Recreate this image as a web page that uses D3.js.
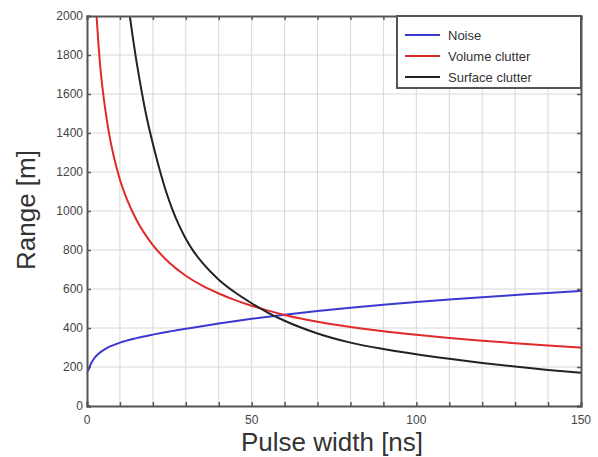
<!DOCTYPE html>
<html><head><meta charset="utf-8">
<script src="https://cdn.jsdelivr.net/npm/d3@7"></script>
<style>body{margin:0;background:#fff;} svg{display:block;}</style>
</head><body>
<svg id="c" width="598" height="457"></svg>
<script>
const noiseX = [0.3,1,2,3,4,6,8,10,15,20,25,30,40,50,60,70,80,90,100,110,120,130,140,150];
const noiseY = [178,210,240,260,275,297,312,325,348,366,382,396,423,447,468,487,504,519,533,546,558,569,580,590];
const volX = [2.9,3.5,4,5,6,7,8,10,12,15,20,25,30,35,40,45,50,55,60,70,80,90,100,110,120,130,140,150];
const volY = [2000,1850,1745,1590,1470,1370,1290,1160,1065,955,825,735,668,617,577,543,514,489,467,432,405,383,365,349,335,322,310,299];
const surfX = [13,14,15,16,18,20,22,24,26,28,30,32,35,40,45,50,55,60,70,80,90,100,110,120,130,140,150];
const surfY = [2000,1880,1770,1670,1490,1345,1215,1100,1005,925,858,802,735,648,582,527,478,437,372,325,292,265,242,221,202,185,170];
const xTicks = [0,10,20,30,40,50,60,70,80,90,100,110,120,130,140,150];
const xLabels = [0,50,100,150];
const yTicks = [0,200,400,600,800,1000,1200,1400,1600,1800,2000];
const seriesNames = ["Noise","Volume clutter","Surface clutter"];
const seriesColors = ["#3a3ad0","#e02a2a","#222222"];

const svg = d3.select("#c");
const L=87, R=581, T=16, B=406;
const x = d3.scaleLinear().domain([0,150]).range([L,R]);
const y = d3.scaleLinear().domain([0,2000]).range([B,T]);

// grid
svg.append("g").selectAll("line").data(xTicks.slice(1,-1)).join("line")
  .attr("x1",d=>x(d)).attr("x2",d=>x(d)).attr("y1",T).attr("y2",B)
  .attr("stroke","#d8d8d8").attr("stroke-width",1);
svg.append("g").selectAll("line").data(yTicks.slice(1,-1)).join("line")
  .attr("y1",d=>y(d)).attr("y2",d=>y(d)).attr("x1",L).attr("x2",R)
  .attr("stroke","#d8d8d8").attr("stroke-width",1);

// data
const series = [
  noiseX.map((v,i)=>[v,noiseY[i]]),
  volX.map((v,i)=>[v,volY[i]]),
  surfX.map((v,i)=>[v,surfY[i]])
];
const line = d3.line().x(d=>x(d[0])).y(d=>y(d[1])).curve(d3.curveMonotoneX);
svg.append("defs").append("clipPath").attr("id","clip").append("rect")
  .attr("x",L).attr("y",T).attr("width",R-L).attr("height",B-T);
series.forEach((s,i)=>{
  svg.append("path").attr("d",line(s)).attr("fill","none")
    .attr("stroke",seriesColors[i]).attr("stroke-width",2).attr("clip-path","url(#clip)");
});

// axes with inward ticks
const axCol="#555";
const fmtNone = ()=>"";
const gB = svg.append("g").attr("transform",`translate(0,${B})`)
  .call(d3.axisBottom(x).tickValues(xTicks).tickSize(-4).tickFormat(fmtNone));
const gT = svg.append("g").attr("transform",`translate(0,${T})`)
  .call(d3.axisTop(x).tickValues(xTicks).tickSize(-4).tickFormat(fmtNone));
const gL = svg.append("g").attr("transform",`translate(${L},0)`)
  .call(d3.axisLeft(y).tickValues(yTicks).tickSize(-4).tickFormat(fmtNone));
const gR = svg.append("g").attr("transform",`translate(${R},0)`)
  .call(d3.axisRight(y).tickValues(yTicks).tickSize(-4).tickFormat(fmtNone));
[gB,gT,gL,gR].forEach(g=>{
  g.select(".domain").attr("stroke",axCol).attr("stroke-width",2);
  g.selectAll(".tick line").attr("stroke",axCol).attr("stroke-width",1.5);
});

// tick labels
const tf = "Liberation Sans, Arial, sans-serif";
svg.append("g").selectAll("text").data(xLabels).join("text")
  .attr("x",d=>x(d)).attr("y",B+18).attr("text-anchor","middle")
  .attr("font-family",tf).attr("font-size",12).attr("fill","#444").text(d=>d);
svg.append("g").selectAll("text").data(yTicks).join("text")
  .attr("x",L-4).attr("y",d=>y(d)+4).attr("text-anchor","end")
  .attr("font-family",tf).attr("font-size",12).attr("fill","#444").text(d=>d);

// axis titles
svg.append("text").attr("x",332).attr("y",451).attr("text-anchor","middle")
  .attr("font-family",tf).attr("font-size",26).attr("fill","#333").text("Pulse width [ns]");
svg.append("text").attr("transform",`translate(35,210) rotate(-90)`)
  .attr("text-anchor","middle").attr("font-family",tf).attr("font-size",26)
  .attr("fill","#333").text("Range [m]");

// legend
const lg = svg.append("g");
lg.append("rect").attr("x",397).attr("y",T).attr("width",R-397).attr("height",72)
  .attr("fill","#fff").attr("stroke",axCol).attr("stroke-width",2);
seriesNames.forEach((n,i)=>{
  const yy = 35 + i*21;
  lg.append("line").attr("x1",405).attr("x2",440).attr("y1",yy).attr("y2",yy)
    .attr("stroke",seriesColors[i]).attr("stroke-width",2);
  lg.append("text").attr("x",448).attr("y",yy+4.5).attr("font-family",tf)
    .attr("font-size",13).attr("fill","#333").text(n);
});
</script>
</body></html>
